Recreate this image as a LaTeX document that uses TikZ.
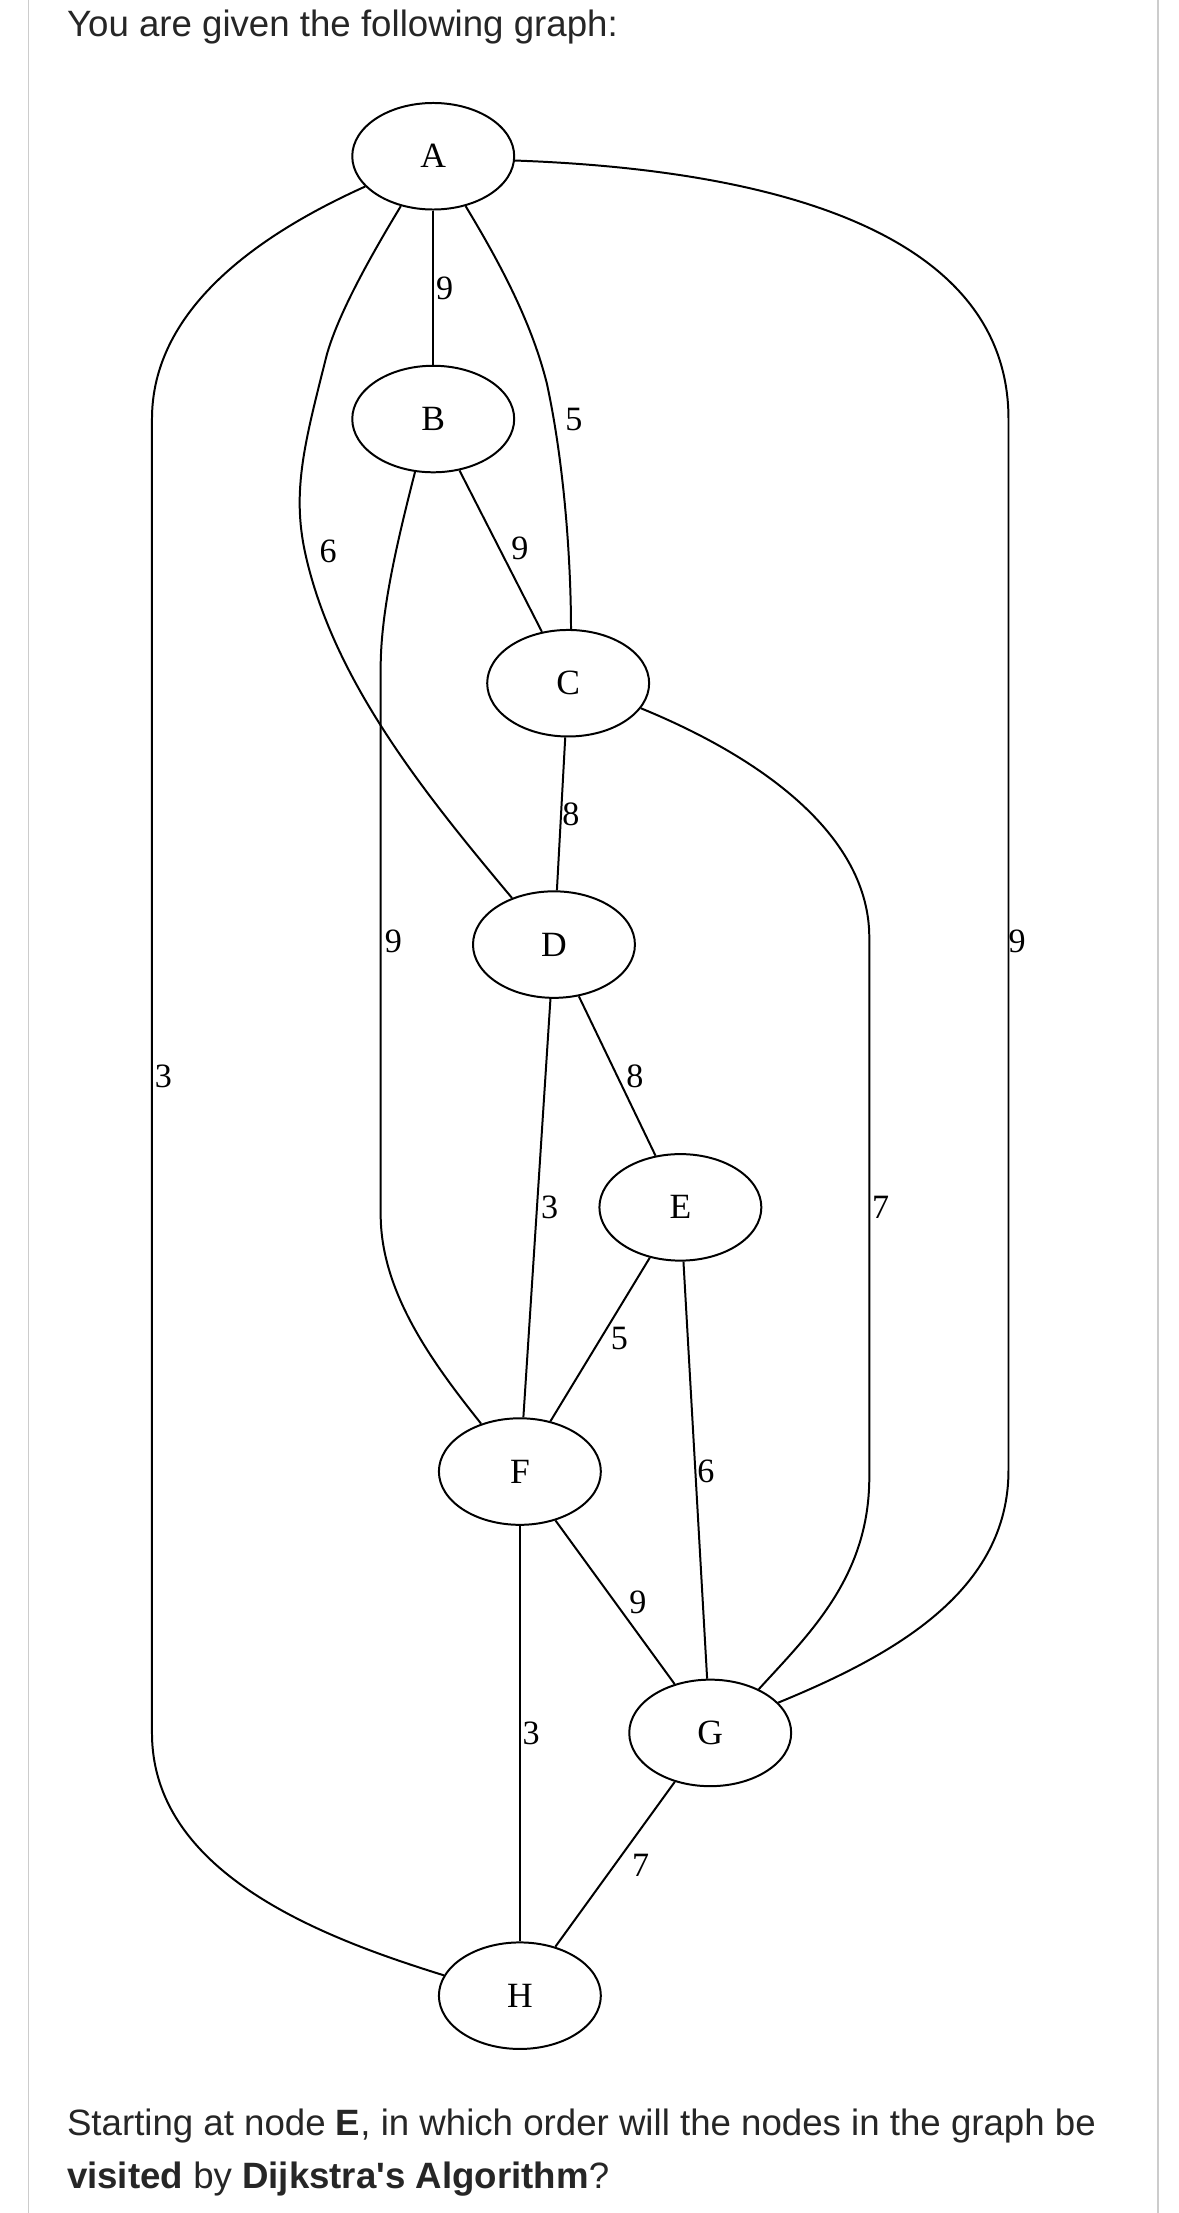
\documentclass[tikz,border=0pt]{standalone}
\usepackage{fontspec}
\setmainfont{Liberation Serif}
\newfontfamily\uisans{Liberation Sans}
\usetikzlibrary{shapes.geometric}
\begin{document}
\begin{tikzpicture}[x=1pt,y=-1pt,
  nd/.style={ellipse,draw,line width=1.4pt,minimum width=114pt,minimum height=75pt,inner sep=0pt,font=\fontsize{25}{28}\selectfont},
  ed/.style={line width=1.4pt},
  lb/.style={font=\fontsize{24}{26}\selectfont,inner sep=0pt},
  txt/.style={font=\uisans\fontsize{25.8}{30}\selectfont,text=black!85,anchor=west,inner sep=0pt}]
\useasboundingbox (0,0) rectangle (830,1558);
\draw[black!20,line width=1.2pt] (20,0) -- (20,1558) (815,0) -- (815,1558);
\node[txt] (t1) at (47,19) {You are given the following graph:};
\node[nd] (A) at (305,110) {A};
\node[nd] (B) at (305,295) {B};
\node[nd] (C) at (400,481) {C};
\node[nd] (D) at (390,665) {D};
\node[nd] (E) at (479,850) {E};
\node[nd] (F) at (366,1036) {F};
\node[nd] (G) at (500,1220) {G};
\node[nd] (H) at (366,1405) {H};
\draw[ed] (A) -- (B);
\draw[ed] (B) -- (C);
\draw[ed] (C) -- (D);
\draw[ed] (D) -- (E);
\draw[ed] (D) -- (F);
\draw[ed] (E) -- (F);
\draw[ed] (E) -- (G);
\draw[ed] (F) -- (G);
\draw[ed] (F) -- (H);
\draw[ed] (G) -- (H);
\draw[ed] (A.204) .. controls (160,175) and (107,230) .. (107,295) -- (107,1220) .. controls (107,1320) and (230,1365) .. (H.165);
\draw[ed] (A.357) .. controls (560,120) and (710,170) .. (710,295) -- (710,1035) .. controls (710,1120) and (630,1165) .. (G.24);
\draw[ed] (A.237) .. controls (255,190) and (237,225) .. (230,250) .. controls (215,310) and (205,345) .. (215,390) .. controls (235,480) and (300,560) .. (D.132);
\draw[ed] (A.303) .. controls (355,190) and (375,230) .. (385,270) .. controls (398,330) and (402,400) .. (C.87);
\draw[ed] (B.251) .. controls (280,380) and (268,430) .. (268,470) -- (268,855) .. controls (268,910) and (305,960) .. (F.129);
\draw[ed] (C.341) .. controls (540,535) and (612,590) .. (612,660) -- (612,1040) .. controls (612,1110) and (570,1150) .. (G.42);
\node[lb] (l1) at (313,203) {9};
\node[lb] (l2) at (404,295) {5};
\node[lb] (l3) at (231,388) {6};
\node[lb] (l4) at (115,758) {3};
\node[lb] (l5) at (716,663) {9};
\node[lb] (l6) at (366,386) {9};
\node[lb] (l7) at (277,663) {9};
\node[lb] (l8) at (402,573) {8};
\node[lb] (l9) at (620,850) {7};
\node[lb] (l10) at (447,758) {8};
\node[lb] (l11) at (387,850) {3};
\node[lb] (l12) at (436,942) {5};
\node[lb] (l13) at (497,1036) {6};
\node[lb] (l14) at (449,1128) {9};
\node[lb] (l15) at (374,1220) {3};
\node[lb] (l16) at (451,1313) {7};
\node[txt] (t2) at (47,1497) {Starting at node \textbf{E}, in which order will the nodes in the graph be};
\node[txt] (t3) at (47,1534) {\textbf{visited} by \textbf{Dijkstra's Algorithm}?};
\end{tikzpicture}
\end{document}
